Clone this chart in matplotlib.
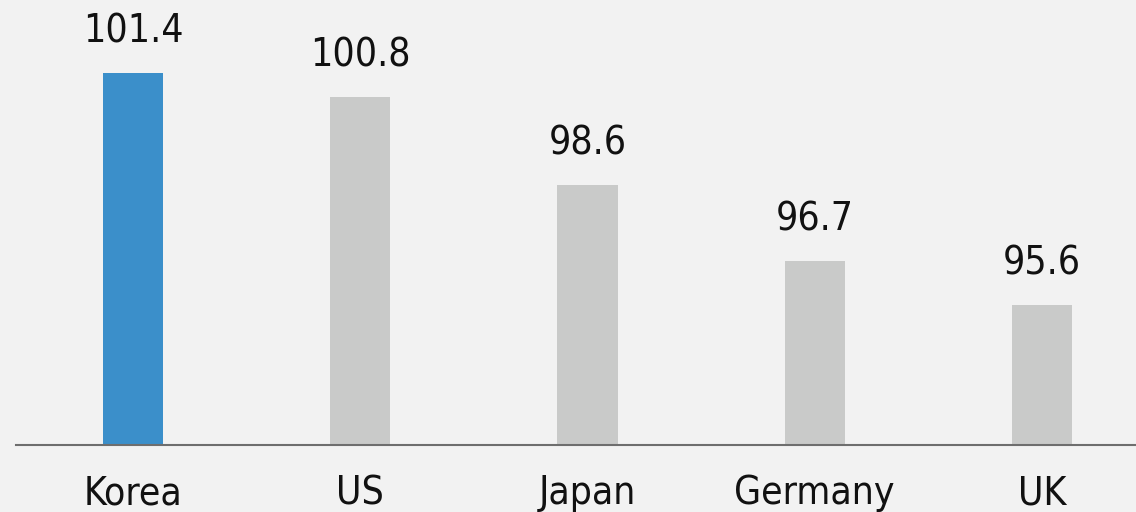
import numpy as np
import matplotlib.pyplot as plt

countries = ["Korea", "US", "Japan", "Germany", "UK"]
values = [101.4, 100.8, 98.6, 96.7, 95.6]
bar_colors = ["#3b8fca", "#c9cac9", "#c9cac9", "#c9cac9", "#c9cac9"]

fig = plt.figure(figsize=(11.36, 5.12), dpi=100)
fig.patch.set_facecolor("#f2f2f2")
ax = fig.add_axes([16/1136, 67/512, 1120/1136, 445/512])
ax.set_facecolor("#f2f2f2")

x = np.arange(len(countries))
ax.bar(x, values, width=0.265, color=bar_colors)

# value labels above bars
for xi, v in zip(x, values):
    ax.annotate(f"{v:.1f}", (xi, v), xytext=(0, 16), textcoords="offset points",
                ha="center", va="bottom", fontsize=28, stretch="condensed",
                color="#111111")

ax.set_xlim(-0.515, 4.414)
ax.set_ylim(92.1, 103.225)
ax.set_xticks(x)
ax.set_xticklabels(countries, fontsize=28, stretch="condensed", color="#111111")
ax.tick_params(axis="x", length=0, pad=21)
ax.set_yticks([])
for s in ["top", "right", "left"]:
    ax.spines[s].set_visible(False)
ax.spines["bottom"].set_color("#6e6e6e")
ax.spines["bottom"].set_linewidth(1.5)

plt.savefig("out.png", dpi=100, facecolor=fig.get_facecolor())
